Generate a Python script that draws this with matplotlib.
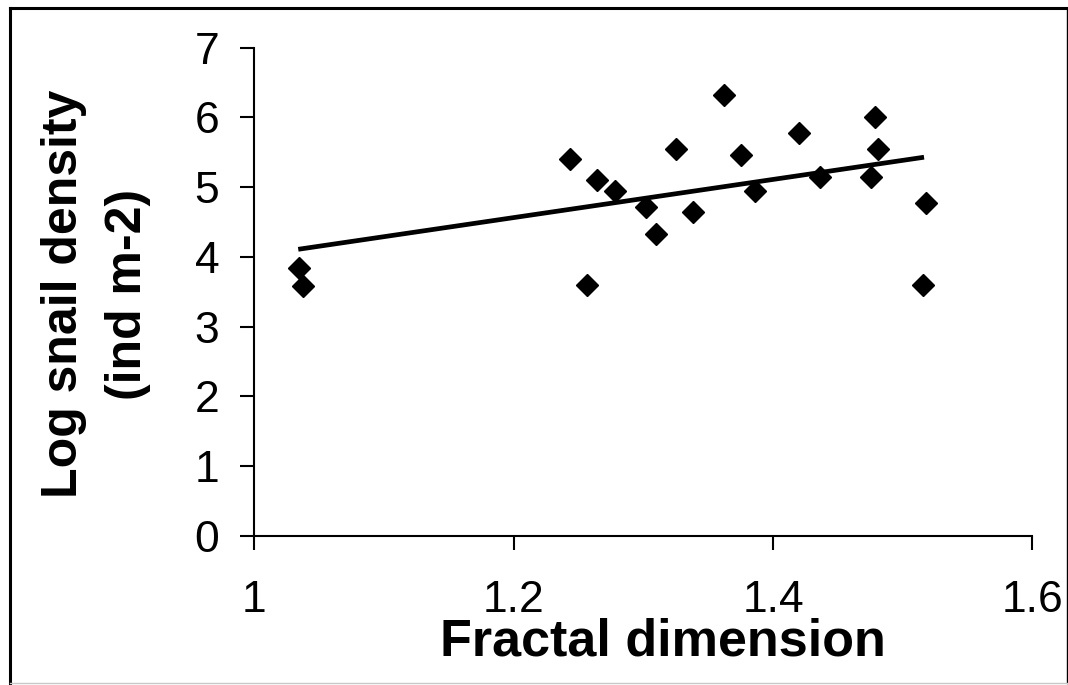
import numpy as np
import matplotlib
matplotlib.use("Agg")
import matplotlib.pyplot as plt
from matplotlib.lines import Line2D

plt.rcParams['font.family'] = ['Liberation Sans', 'DejaVu Sans']

# values
fractal_dim = [1.035, 1.0375, 1.2434, 1.2568, 1.2645, 1.2781, 1.3018, 1.3095,
               1.3251, 1.3384, 1.3623, 1.3754, 1.386, 1.4204, 1.4361, 1.4759,
               1.4784, 1.481, 1.5154, 1.5177]
log_density = [3.84, 3.59, 5.41, 3.60, 5.10, 4.94, 4.72, 4.33,
               5.55, 4.64, 6.32, 5.46, 4.95, 5.78, 5.14, 5.14,
               6.00, 5.55, 3.60, 4.78]

# linear trend line end points (as drawn in the original)
trend_x = [1.0341, 1.5164]
trend_y = [4.11, 5.43]

x_ticks = [1, 1.2, 1.4, 1.6]
x_tick_labels = ["1", "1.2", "1.4", "1.6"]
y_ticks = [0, 1, 2, 3, 4, 5, 6, 7]

W, H = 1068, 685
fig = plt.figure(figsize=(W / 100, H / 100), dpi=100)
ax = fig.add_axes([254 / W, (H - 536) / H, 778.5 / W, 488.3 / H])

ax.plot(trend_x, trend_y, color='black', lw=3.4, solid_capstyle='butt', zorder=2)
ax.plot(fractal_dim, log_density, linestyle='none', marker='D', ms=11,
        color='black', zorder=3)

ax.set_xlim(1, 1.6)
ax.set_ylim(0, 7)
ax.set_xticks(x_ticks)
ax.set_xticklabels(x_tick_labels)
ax.set_yticks(y_ticks)

for side in ['top', 'right']:
    ax.spines[side].set_visible(False)
for side in ['left', 'bottom']:
    ax.spines[side].set_linewidth(1.5)

ax.tick_params(axis='both', direction='out', length=10, width=1.5,
               labelsize=32, colors='black')
ax.tick_params(axis='x', pad=22)
ax.tick_params(axis='y', pad=15)

ax.set_xlabel("Fractal dimension", fontsize=37.5, fontweight='bold')
ax.xaxis.label.set_va('center')
ax.xaxis.set_label_coords(0.525, -(642 - 536) / 488.3)

ax.set_ylabel("Log snail density\n(ind m-2)", fontsize=36, fontweight='bold',
              linespacing=1.5, multialignment='center')
ax.yaxis.label.set_va('center')
ax.yaxis.set_label_coords((96 - 254) / 778.5, (536 - 294) / 488.3)

# outer frame of the pasted chart
fig.add_artist(Line2D([10 / W, 10 / W], [2 / H, 1 - 8 / H], color='black', lw=2.2))
fig.add_artist(Line2D([10 / W, 1067 / W], [1 - 8 / H, 1 - 8 / H], color='black', lw=2.2))
fig.add_artist(Line2D([1066.5 / W, 1066.5 / W], [2 / H, 1 - 8 / H], color='black', lw=1))
fig.add_artist(Line2D([10 / W, 1067 / W], [2 / H, 2 / H], color='#c8c8c8', lw=1))

fig.savefig("out.png", dpi=100)
